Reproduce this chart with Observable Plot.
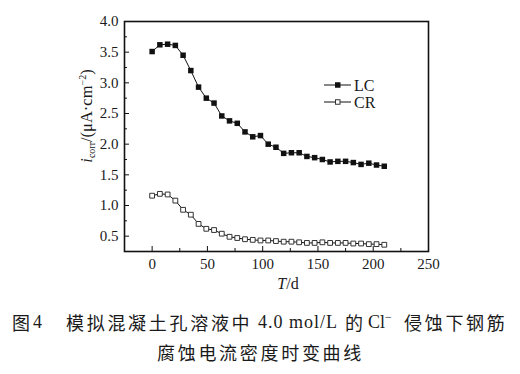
<!DOCTYPE html>
<html><head><meta charset="utf-8">
<script src="https://cdn.jsdelivr.net/npm/d3@7"></script>
<script src="https://cdn.jsdelivr.net/npm/@observablehq/plot@0.6"></script>
<style>
body{margin:0;background:#fff;width:520px;height:374px;overflow:hidden;position:relative}
#chart svg{display:block}
.cap{position:absolute;font-family:"Liberation Serif","Noto Sans CJK SC",serif;font-size:18px;line-height:30px;color:#1a1a1a;white-space:nowrap}
.cj{font-family:"Noto Sans CJK SC",sans-serif;letter-spacing:2.7px}
</style></head><body>
<div id="chart"></div>
<div class="cap cj" style="left:12px;top:307px;letter-spacing:0">图</div>
<div class="cap" style="left:33px;top:307px">4</div>
<div class="cap cj" style="left:66px;top:307px">模拟混凝土孔溶液中</div>
<div class="cap" style="left:258px;top:307px;letter-spacing:1px">4.0 mol/L</div>
<div class="cap cj" style="left:345px;top:307px">的</div>
<div class="cap" style="left:368px;top:307px">Cl<span style="position:relative;top:-7px;font-size:12px">−</span></div>
<div class="cap cj" style="left:404px;top:307px">侵蚀下钢筋</div>
<div class="cap cj" style="left:157px;top:337px">腐蚀电流密度时变曲线</div>
<script>
const days = [0,7,14,21,28,35,42,49,56,63,70,77,84,91,98,105,112,119,126,133,140,147,154,161,168,175,182,189,196,203,210];
const lcValues = [3.51,3.62,3.63,3.61,3.45,3.20,2.93,2.75,2.67,2.46,2.38,2.34,2.20,2.12,2.14,2.00,1.95,1.85,1.86,1.86,1.80,1.78,1.75,1.71,1.72,1.72,1.70,1.67,1.69,1.66,1.64];
const crValues = [1.16,1.19,1.18,1.08,0.93,0.85,0.70,0.62,0.60,0.54,0.49,0.47,0.45,0.44,0.43,0.43,0.42,0.41,0.41,0.40,0.39,0.39,0.40,0.39,0.39,0.39,0.38,0.38,0.37,0.37,0.36];
const seriesNames = ["LC","CR"];
const xMajor = [0,50,100,150,200,250];
const xMinor = [25,75,125,175,225];
const yMajor = [0.5,1.0,1.5,2.0,2.5,3.0,3.5,4.0];
const yMinor = [0.75,1.25,1.75,2.25,2.75,3.25,3.75];

const lcRows = days.map((d,i)=>({T:d, v:lcValues[i], s:seriesNames[0]}));
const crRows = days.map((d,i)=>({T:d, v:crValues[i], s:seriesNames[1]}));

const W = 520, H = 300, mL = 124, mR = 92, mT = 21, mB = 49;
const plotW = W - mL - mR, plotH = H - mT - mB;

const plot = Plot.plot({
  width:W, height:H,
  marginLeft:mL, marginRight:mR, marginTop:mT, marginBottom:mB,
  style:{fontFamily:"Liberation Serif, serif", fontSize:"15px", color:"#1a1a1a", background:"white"},
  x:{domain:[-25,250]},
  y:{domain:[0.25,4.0]},
  marks:[
    Plot.axisX(xMajor,{tickSize:0, tickPadding:7, label:null, tickFormat:d=>String(d)}),
    Plot.axisY(yMajor,{tickSize:0, tickPadding:6, label:null, tickFormat:d=>d.toFixed(1)}),
    Plot.tickX(xMajor,{x:d=>d, insetTop:plotH-5, stroke:"#111"}),
    Plot.tickX(xMinor,{x:d=>d, insetTop:plotH-3, stroke:"#111"}),
    Plot.tickY(yMajor,{y:d=>d, insetRight:plotW-5, stroke:"#111"}),
    Plot.tickY(yMinor,{y:d=>d, insetRight:plotW-3, stroke:"#111"}),
    Plot.line(lcRows,{x:"T", y:"v", stroke:"#111", strokeWidth:1}),
    Plot.line(crRows,{x:"T", y:"v", stroke:"#111", strokeWidth:1}),
    Plot.dot(lcRows,{x:"T", y:"v", symbol:"square", r:3.1, fill:"#111", stroke:"none"}),
    Plot.dot(crRows,{x:"T", y:"v", symbol:"square", r:2.7, fill:"white", stroke:"#333", strokeWidth:1}),
    Plot.frame({stroke:"#111", strokeWidth:1.6})
  ]
});
document.getElementById("chart").appendChild(plot);

const svg = d3.select(plot);
// y label
const yl = svg.append("text")
  .attr("transform","translate(92,116) rotate(-90)")
  .attr("text-anchor","middle")
  .attr("font-family","Liberation Serif, serif")
  .attr("font-size",16.5)
  .attr("fill","#1a1a1a");
yl.append("tspan").attr("font-style","italic").text("i");
yl.append("tspan").attr("font-size",10).attr("dy",3).text("corr");
yl.append("tspan").attr("dy",-3).text("/(μA·cm");
yl.append("tspan").attr("font-size",10).attr("dy",-6).text("−2");
yl.append("tspan").attr("dy",6).text(")");
// x label
const xl = svg.append("text")
  .attr("x",288).attr("y",289)
  .attr("text-anchor","middle")
  .attr("font-family","Liberation Serif, serif")
  .attr("font-size",16)
  .attr("fill","#1a1a1a");
xl.append("tspan").attr("font-style","italic").text("T");
xl.append("tspan").text("/d");
// legend
const leg = svg.append("g").attr("font-family","Liberation Serif, serif").attr("font-size",16).attr("fill","#1a1a1a").attr("text-anchor","start");
[[seriesNames[0],85,true],[seriesNames[1],102,false]].forEach(([name,y,filled])=>{
  leg.append("line").attr("x1",324).attr("x2",351).attr("y1",y).attr("y2",y).attr("stroke","#111");
  if(filled) leg.append("rect").attr("x",335).attr("y",y-2.75).attr("width",5.5).attr("height",5.5).attr("fill","#111");
  else leg.append("rect").attr("x",335.5).attr("y",y-2.25).attr("width",4.5).attr("height",4.5).attr("fill","white").attr("stroke","#333");
  leg.append("text").attr("x",354).attr("y",y+5.5).attr("text-anchor","start").text(name);
});
</script>
</body></html>
